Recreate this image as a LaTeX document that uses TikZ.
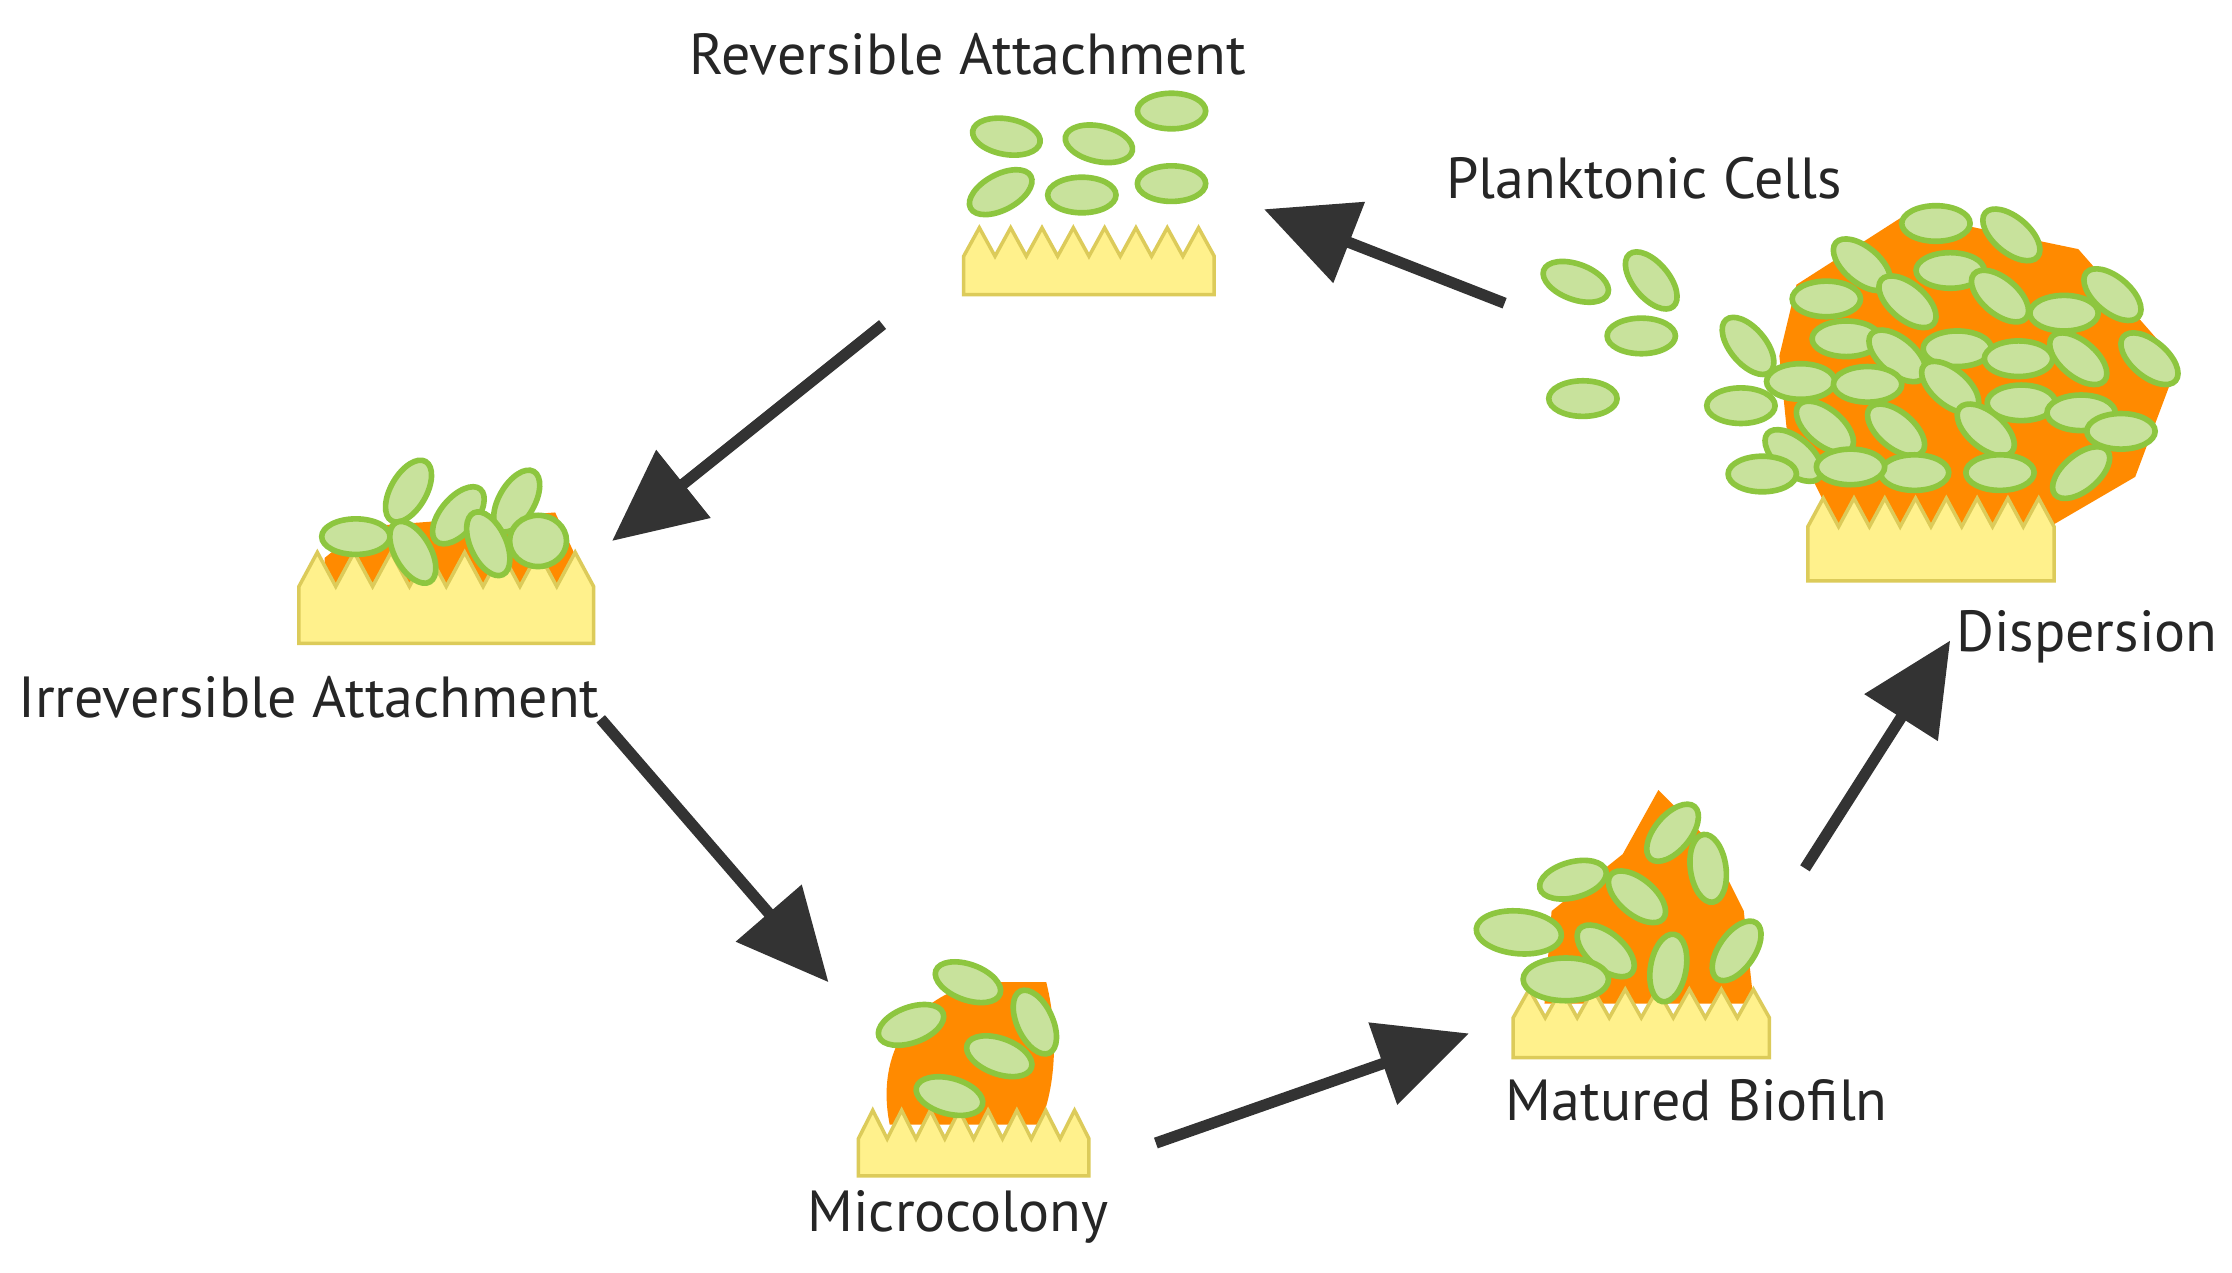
\documentclass[tikz,border=0pt]{standalone}
\usepackage{fontspec}
\setmainfont{PT Sans}
\usetikzlibrary{arrows.meta}
\definecolor{cellf}{HTML}{C8E29C}
\definecolor{celld}{HTML}{8DC63F}
\definecolor{surff}{HTML}{FFF18C}
\definecolor{surfd}{HTML}{DCCB5A}
\definecolor{matrix}{HTML}{FF8A00}
\definecolor{arr}{HTML}{333333}
\tikzset{
 cellsty/.style={fill=cellf,draw=celld,line width=1.6pt},
 surfsty/.style={fill=surff,draw=surfd,line width=1pt},
 matsty/.style={fill=matrix,draw=none},
 arrsty/.style={draw=arr,line width=3.2pt,-{Triangle[length=26pt,width=24pt]}},
 lab/.style={font=\fontsize{16.5}{20}\selectfont,text=black!85,inner sep=0pt}
}
\newcommand{\cel}[3]{\draw[cellsty,rotate around={#3:(#1,#2)}] (#1,#2) ellipse (24 and 12.5);}
\newcommand{\celb}[3]{\draw[cellsty,rotate around={#3:(#1,#2)}] (#1,#2) ellipse (30 and 15);}
% x1 x2 ytop ybase ybottom n
\newcommand{\surf}[6]{%
 \pgfmathsetmacro{\ww}{(#2-#1)/#6}%
 \draw[surfsty] (#1,#5) -- (#1,#4)
  \foreach \i in {1,...,#6} { -- ({#1+(\i-0.5)*\ww},#3) -- ({#1+\i*\ww},#4) }
  -- (#2,#5) -- cycle;}
\begin{document}
\begin{tikzpicture}[x=0.014235cm,y=-0.014235cm]
\useasboundingbox[fill=white] (0,0) rectangle (1568,894);
% labels
\node[lab] (lrev) at (680,38) {Reversible Attachment};
\node[lab] (lplank) at (1155,125) {Planktonic Cells};
\node[lab] (lirr) at (217,490) {Irreversible Attachment};
\node[lab] (lmic) at (673,855) {Microcolony};
\node[lab] (lmat) at (1192,773) {Matured Biofiln};
\node[lab] (ldis) at (1466,447) {Dispersion};
% reversible
\surf{677}{853}{160}{180}{207}{8}
\cel{707}{96}{-10}\cel{772}{101}{-12}\cel{823}{78}{0}
\cel{703}{135}{28}\cel{760}{137}{0}\cel{823}{129}{0}
% irreversible
\fill[matsty] (228,392) -- (255,370) -- (390,360) -- (405,392) -- (405,412) -- (228,412) -- cycle;
\surf{210}{417}{388}{412}{452}{8}
\cel{287}{345}{60}\cel{250}{377}{0}\cel{322}{362}{50}\cel{363}{352}{60}
\cel{290}{388}{-60}\cel{343}{382}{-65}
\draw[cellsty] (378,380) ellipse (20 and 18);
% microcolony
\fill[matsty] (625,790) .. controls (615,740) and (640,700) .. (690,690) -- (735,690) .. controls (745,730) and (740,770) .. (730,790) -- cycle;
\surf{603}{765}{780}{800}{826}{8}
\cel{680}{690}{-20}\cel{727}{718}{-65}\cel{640}{720}{20}\cel{702}{742}{-20}\cel{667}{770}{-15}
% matured
\fill[matsty] (1085,705) -- (1090,640) -- (1140,600) -- (1165,555) -- (1200,590) -- (1225,640) -- (1232,705) -- cycle;
\surf{1063}{1243}{695}{715}{743}{8}
\cel{1175}{585}{50}\cel{1200}{610}{-82}\cel{1105}{618}{15}\cel{1150}{630}{-40}
\celb{1067}{655}{-5}\cel{1128}{668}{-40}\cel{1172}{680}{80}\cel{1220}{668}{55}
\celb{1100}{688}{0}
% dispersion
\fill[matsty] (1262,200) -- (1340,150) -- (1460,175) -- (1530,255) -- (1500,335) -- (1440,370) -- (1290,370) -- (1255,300) -- (1250,250) -- cycle;
\surf{1270}{1443}{350}{370}{408}{8}
\foreach \x/\y/\a in {1360/157/0,1413/165/-40,1308/186/-40,1370/190/0,1283/210/0,1340/212/-40,1405/208/-40,1450/220/0,1484/207/-40,
 1297/238/0,1333/250/-40,1375/245/0,1418/252/0,1460/252/-40,1510/252/-40,1265/268/0,1312/270/0,1370/272/-40,1420/283/0,1462/290/0,
 1282/300/-40,1332/302/-40,1395/302/-40,1490/303/0,1260/320/-40,1345/332/0,1405/332/0,1462/332/40,1300/328/0}
 {\cel{\x}{\y}{\a}}
% planktonic
\cel{1107}{198}{-20}\cel{1160}{197}{-50}\cel{1153}{236}{0}\cel{1228}{243}{-50}
\cel{1112}{280}{0}\cel{1223}{285}{0}\cel{1238}{333}{0}
% arrows
\coordinate (a1s) at (1057,213); \coordinate (a1e) at (888,147);
\coordinate (a2s) at (620,228); \coordinate (a2e) at (430,380);
\coordinate (a3s) at (422,505); \coordinate (a3e) at (582,690);
\coordinate (a4s) at (812,803); \coordinate (a4e) at (1032,726);
\coordinate (a5s) at (1268,610); \coordinate (a5e) at (1370,450);
\draw[arrsty] (a1s) -- (a1e);
\draw[arrsty] (a2s) -- (a2e);
\draw[arrsty] (a3s) -- (a3e);
\draw[arrsty] (a4s) -- (a4e);
\draw[arrsty] (a5s) -- (a5e);
\end{tikzpicture}
\end{document}
